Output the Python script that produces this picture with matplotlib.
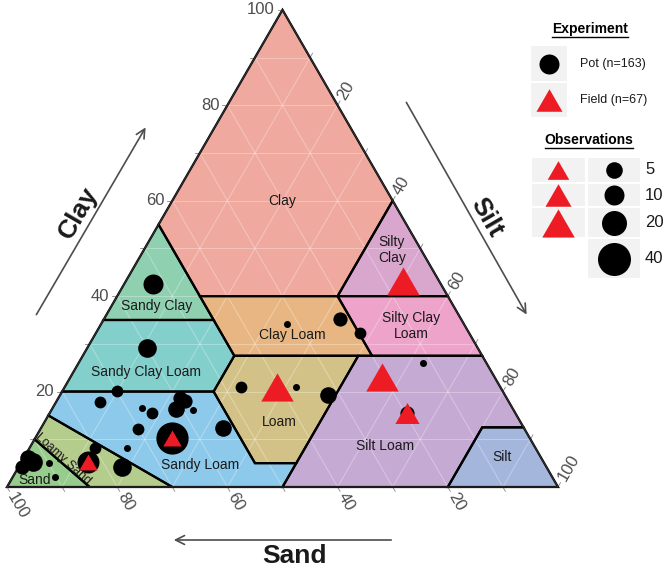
import numpy as np
import matplotlib.pyplot as plt
from matplotlib.path import Path
from matplotlib.patches import Polygon, Rectangle

plt.rcParams['font.family'] = ['Liberation Sans', 'DejaVu Sans']

# Pot experiment (black circles): texture in % and number of observations
pot_sand = [52.2, 60.1, 70.0, 74.2, 67.2, 65.9, 58.7, 61.1, 58.2, 70.1, 64.9, 54.6, 74.1, 79.9, 82.7,
            77.0, 92.7, 95.2, 89.9, 90.2, 47.0, 37.0, 32.1, 32.1, 22.0, 19.8, 11.5, 19.7, 93.2, 59.3]
pot_silt = [5.2, 10.8, 9.9, 8.0, 16.2, 18.6, 23.3, 22.5, 25.7, 17.7, 24.8, 33.0, 17.7, 11.9, 12.1,
            18.8, 2.1, 0.6, 5.1, 7.7, 32.0, 42.0, 48.6, 33.7, 42.8, 47.9, 62.5, 64.8, 0.7, 22.0]
pot_clay = [42.6, 29.1, 20.1, 17.8, 16.6, 15.5, 18.0, 16.4, 16.1, 12.2, 10.3, 12.4, 8.2, 8.2, 5.2,
            4.2, 5.2, 4.2, 5.0, 2.1, 21.0, 21.0, 19.3, 34.2, 35.2, 32.3, 26.0, 15.5, 6.1, 18.7]
pot_obs = [10, 8, 3, 3, 1, 3, 4, 5, 1, 3, 38, 5, 1, 3, 14,
           8, 8, 4, 1, 1, 3, 1, 5, 1, 4, 3, 1, 4, 5, 4]

# Field experiment (red triangles)
field_sand = [6.5, 40.5, 20.4, 19.7, 64.9, 82.7]
field_silt = [50.3, 38.5, 56.5, 64.8, 24.8, 12.1]
field_clay = [43.2, 21.0, 23.1, 15.5, 10.3, 5.2]
field_obs = [20, 20, 20, 8, 4, 4]

legend_obs = [5, 10, 20, 40]

# USDA texture classes, vertices as (sand, silt, clay)
classes = {
    'Clay': [(0, 0, 100), (45, 0, 55), (45, 15, 40), (20, 40, 40), (0, 40, 60)],
    'Sandy Clay': [(45, 0, 55), (65, 0, 35), (45, 20, 35)],
    'Sandy Clay Loam': [(65, 0, 35), (80, 0, 20), (52.5, 27.5, 20), (45, 27.5, 27.5), (45, 20, 35)],
    'Clay Loam': [(45, 15, 40), (45, 27.5, 27.5), (20, 52.5, 27.5), (20, 40, 40)],
    'Silty Clay': [(20, 40, 40), (0, 40, 60), (0, 60, 40)],
    'Silty Clay Loam': [(20, 40, 40), (20, 52.5, 27.5), (0, 72.5, 27.5), (0, 60, 40)],
    'Sandy Loam': [(80, 0, 20), (85, 0, 15), (70, 30, 0), (50, 50, 0), (45, 50, 5),
                   (52.5, 42.5, 5), (52.5, 27.5, 20)],
    'Loam': [(52.5, 27.5, 20), (52.5, 42.5, 5), (45, 50, 5), (22.5, 50, 27.5), (45, 27.5, 27.5)],
    'Silt Loam': [(50, 50, 0), (20, 80, 0), (7.5, 80, 12.5), (0, 87.5, 12.5), (0, 72.5, 27.5),
                  (22.5, 50, 27.5), (45, 50, 5)],
    'Silt': [(20, 80, 0), (0, 100, 0), (0, 87.5, 12.5), (7.5, 80, 12.5)],
    'Loamy Sand': [(85, 0, 15), (90, 0, 10), (85, 15, 0), (70, 30, 0)],
    'Sand': [(90, 0, 10), (100, 0, 0), (85, 15, 0)],
}
colors = {
    'Clay': '#EFA99F', 'Sandy Clay': '#8FD0B1', 'Sandy Clay Loam': '#82CFCB',
    'Clay Loam': '#E8B682', 'Silty Clay': '#D9A6CE', 'Silty Clay Loam': '#EEA3CB',
    'Sandy Loam': '#8DC9EA', 'Loam': '#D3C287', 'Silt Loam': '#C5AAD3',
    'Silt': '#A4B6DC', 'Loamy Sand': '#B4CC8C', 'Sand': '#96CC8C',
}

S3 = np.sqrt(3) / 2


def tern(sand, silt, clay):
    silt = np.asarray(silt, float)
    clay = np.asarray(clay, float)
    return silt + clay / 2, clay * S3


def radius_px(n):
    return np.interp(n, [1, 5, 10, 20, 40], [3.5, 8.3, 10, 12.5, 16.5])


PT = 72 / 100  # points per pixel
tri_marker = Path([(-0.5, -0.433), (0.5, -0.433), (0, 0.433), (-0.5, -0.433)])

fig = plt.figure(figsize=(6.67, 5.68), dpi=100)
ax = fig.add_axes([0, 0, 1, 1])
k = 5.51  # pixels per unit
ax.set_xlim(-7 / k, 660 / k)
ax.set_ylim(-81 / k, 487 / k)
ax.axis('off')

# class fills
for name, verts in classes.items():
    s, si, c = zip(*verts)
    x, y = tern(s, si, c)
    ax.add_patch(Polygon(np.column_stack([x, y]), closed=True, fc=colors[name], ec='none', zorder=1))

# faint grid
for v in range(10, 100, 10):
    for a, b in [((100 - v, 0, v), (0, 100 - v, v)),
                 ((v, 100 - v, 0), (v, 0, 100 - v)),
                 ((100 - v, v, 0), (0, v, 100 - v))]:
        x, y = tern(*zip(a, b))
        ax.plot(x, y, color='white', lw=0.8, alpha=0.3, zorder=2)

# class borders
for name, verts in classes.items():
    s, si, c = zip(*verts)
    x, y = tern(s, si, c)
    ax.add_patch(Polygon(np.column_stack([x, y]), closed=True, fc='none', ec='black', lw=1.6, zorder=3))

x, y = tern([100, 0, 0, 100], [0, 100, 0, 0], [0, 0, 100, 0])
ax.plot(x, y, color='#333333', lw=0.8, zorder=4)

# ticks and tick labels
tl = 5 / k
gap = 8 / k
tick_col = '#888888'
lab_col = '#4D4D4D'
for v in range(10, 110, 10):
    # clay, left edge
    x0, y0 = tern(100 - v, 0, v)
    ax.plot([x0, x0 - tl], [y0, y0], color=tick_col, lw=0.6, clip_on=False)
    if v % 20 == 0:
        ax.text(x0 - gap, y0, str(v), ha='right', va='center', fontsize=12, color=lab_col)
    # sand, bottom edge
    x0, y0 = tern(v, 100 - v, 0)
    ax.plot([x0, x0 + 0.5 * tl], [y0, y0 - S3 * tl], color=tick_col, lw=0.6, clip_on=False)
    if v % 20 == 0:
        ax.text(x0 + 0.5 * gap, y0 - S3 * gap, str(v), ha='left', va='center', rotation=-60,
                rotation_mode='anchor', fontsize=12, color=lab_col)
    # silt, right edge
    x0, y0 = tern(0, v, 100 - v)
    ax.plot([x0, x0 + 0.5 * tl], [y0, y0 + S3 * tl], color=tick_col, lw=0.6, clip_on=False)
    if v % 20 == 0:
        ax.text(x0 + 0.5 * gap, y0 + S3 * gap, str(v), ha='left', va='center', rotation=60,
                rotation_mode='anchor', fontsize=12, color=lab_col)

# data points
px, py = tern(pot_sand, pot_silt, pot_clay)
for xi, yi, n in zip(px, py, pot_obs):
    ax.plot(xi, yi, 'o', color='black', mec='none', ms=2 * radius_px(n) * PT, zorder=5)
fx, fy = tern(field_sand, field_silt, field_clay)
for xi, yi, n in zip(fx, fy, field_obs):
    ax.plot(xi, yi, marker=tri_marker, color='#ED1C24', mec='none',
            ms=2.6 * radius_px(n) * PT, zorder=6)

# overlay in pixel coordinates for annotations and legend
ov = fig.add_axes([0, 0, 1, 1], zorder=10)
ov.set_xlim(0, 667)
ov.set_ylim(568, 0)
ov.axis('off')
ov.patch.set_alpha(0)

labels = [('Clay', 282, 201), ('Sandy Clay', 157, 306), ('Sandy Clay Loam', 146, 372),
          ('Clay Loam', 292, 335), ('Silty\nClay', 392, 250), ('Silty Clay\nLoam', 411, 326),
          ('Loam', 279, 422), ('Sandy Loam', 200, 465), ('Silt Loam', 385, 446),
          ('Silt', 502, 457), ('Sand', 35, 480)]
for t, xx, yy in labels:
    ov.text(xx, yy, t, ha='center', va='center', fontsize=10, color='#1a1a1a', linespacing=1.2)
ov.text(63, 459, 'Loamy Sand', ha='center', va='center', fontsize=9, rotation=-42,
        color='#1a1a1a')

# axis titles with arrows
arrow = dict(arrowstyle='->', color='#4D4D4D', lw=1.2, mutation_scale=16)
ov.annotate('', xy=(147, 125), xytext=(35, 317), arrowprops=arrow)
ov.annotate('', xy=(528, 317), xytext=(405, 100), arrowprops=arrow)
ov.annotate('', xy=(171, 540), xytext=(394, 540), arrowprops=arrow)
ov.text(78, 213, 'Clay', rotation=60, ha='center', va='center', fontsize=19, fontweight='bold',
        color='#1a1a1a')
ov.text(487, 217, 'Silt', rotation=-60, ha='center', va='center', fontsize=19, fontweight='bold',
        color='#1a1a1a')
ov.text(294, 556, 'Sand', ha='center', va='center', fontsize=19, fontweight='bold',
        color='#1a1a1a')

# legend
fig.canvas.draw()
renderer = fig.canvas.get_renderer()


def underlined_title(xx, yy, txt):
    t = ov.text(xx, yy, txt, ha='center', va='center', fontsize=10, fontweight='bold')
    bb = t.get_window_extent(renderer).transformed(ov.transData.inverted())
    ov.plot([bb.x0, bb.x1], [yy + 8, yy + 8], color='black', lw=1.0)


box_col = '#F2F2F2'
underlined_title(590, 29, 'Experiment')
ov.add_patch(Rectangle((531, 46), 36, 35, fc=box_col, ec='none'))
ov.add_patch(Rectangle((531, 83), 36, 34, fc=box_col, ec='none'))
ov.plot(549, 63.5, 'o', color='black', mec='none', ms=2 * radius_px(10) * PT)
ov.plot(549, 100, marker=tri_marker, color='#ED1C24', mec='none', ms=2.6 * radius_px(10) * PT)
ov.text(580, 63.5, 'Pot (n=163)', ha='left', va='center', fontsize=9, color='#1a1a1a')
ov.text(580, 100, 'Field (n=67)', ha='left', va='center', fontsize=9, color='#1a1a1a')

underlined_title(589, 140, 'Observations')
rows = [(158, 182), (184, 206), (208, 237), (239, 278)]
for i, (n, (y0, y1)) in enumerate(zip(legend_obs, rows)):
    yc = (y0 + y1) / 2
    ov.add_patch(Rectangle((588, y0), 52, y1 - y0, fc=box_col, ec='none'))
    ov.plot(614, yc, 'o', color='black', mec='none', ms=2 * radius_px(n) * PT)
    if i < 3:
        ov.add_patch(Rectangle((532, y0), 53, y1 - y0, fc=box_col, ec='none'))
        ov.plot(558, yc, marker=tri_marker, color='#ED1C24', mec='none',
                ms=2.6 * radius_px(n) * PT)
    ov.text(645, yc, str(n), ha='left', va='center', fontsize=12, color='#1a1a1a')

fig.savefig('out.png', dpi=100)
